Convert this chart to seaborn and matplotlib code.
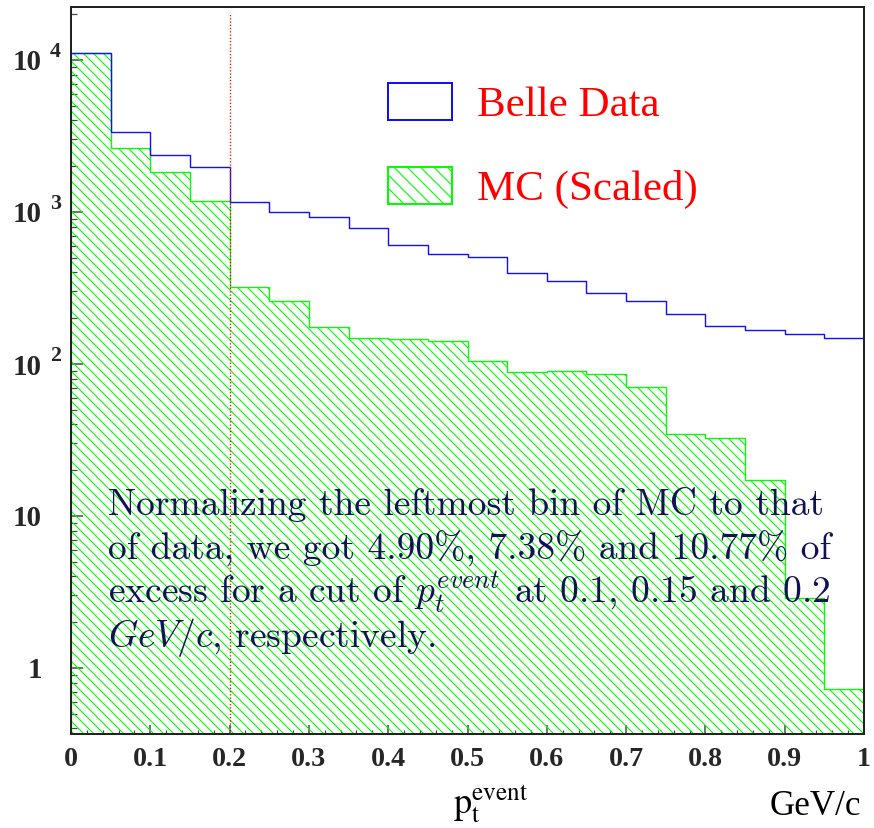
import numpy as np
import pandas as pd
import matplotlib
matplotlib.use("Agg")
import matplotlib.pyplot as plt
import seaborn as sns
from matplotlib.patches import Patch
from matplotlib.ticker import LogLocator, MultipleLocator, NullFormatter

# ---------------- data ----------------
bin_edges = [0.00, 0.05, 0.10, 0.15, 0.20, 0.25, 0.30, 0.35, 0.40, 0.45, 0.50,
             0.55, 0.60, 0.65, 0.70, 0.75, 0.80, 0.85, 0.90, 0.95, 1.00]
belle_data = [11100, 3360, 2370, 1980, 1164, 1000, 923, 781, 609, 529,
              504, 397, 352, 294, 260, 212, 178, 167, 158, 149]
mc_scaled = [11100, 2650, 1824, 1181, 321, 261, 174, 148, 145, 142,
             104, 88, 90, 86, 71, 34.6, 32.4, 17.2, 2.87, 0.724]
x_ticks = [0, 0.1, 0.2, 0.3, 0.4, 0.5, 0.6, 0.7, 0.8, 0.9, 1.0]
x_tick_labels = ["0", "0.1", "0.2", "0.3", "0.4", "0.5", "0.6", "0.7", "0.8", "0.9", "1"]
y_ticks = [1, 10, 100, 1000, 10000]
y_tick_bases = ["1", "10", "10", "10", "10"]
y_tick_exponents = ["", "", "2", "3", "4"]
legend_labels = ["Belle Data", "MC (Scaled)"]
cut_value = 0.2
data_drop_to = 1.0
note_lines = [
    "Normalizing the leftmost bin of MC to that",
    "of data, we got 4.90%, 7.38% and 10.77% of",
    r"excess for a cut of $p_t^{event}$ at 0.1, 0.15 and 0.2",
    r"$GeV/c$, respectively.",
]
x_label = r"$\mathrm{p}_{\mathrm{t}}^{\mathrm{event}}$"
x_unit = "GeV/c"

# ---------------- style ----------------
W, H, DPI = 874, 828, 120
def pt(px):
    return px * 72.0 / DPI

sns.set_style("white")
plt.rcParams["font.family"] = ["Liberation Serif", "DejaVu Serif"]
plt.rcParams["hatch.linewidth"] = pt(1.1)
plt.rcParams["hatch.color"] = "#00ff00"

BLUE = "#1010ff"
GREEN = "#00ff00"
NAVY = "#111155"
SPINE = "#222222"
HATCH = "\\\\\\\\"

fig = plt.figure(figsize=(W / DPI, H / DPI), dpi=DPI)
ax = fig.add_axes([71 / W, 1 - 734 / H, (864 - 71) / W, (734 - 7) / H])

centers = [(a + b) / 2 for a, b in zip(bin_edges[:-1], bin_edges[1:])]
df = pd.DataFrame({"pt": centers, "data": belle_data, "mc": mc_scaled})

# MC hatched histogram
sns.histplot(data=df, x="pt", weights="mc", bins=bin_edges, element="step",
             fill=True, ax=ax, color=GREEN, linewidth=pt(1.3))
poly = ax.collections[-1]
poly.set_alpha(None)
poly.set_facecolor("none")
poly.set_edgecolor(GREEN)
poly.set_hatch(HATCH)

# Data outline histogram
sns.histplot(data=df, x="pt", weights="data", bins=bin_edges, element="step",
             fill=False, ax=ax, color=BLUE, linewidth=pt(1.4))
ax.vlines([bin_edges[0]], data_drop_to * 0.01, belle_data[0], color=BLUE, lw=pt(1.6))
ax.vlines([bin_edges[-1]], data_drop_to, belle_data[-1], color=BLUE, lw=pt(1.6))

ax.set_yscale("log")
ax.set_xlim(bin_edges[0], bin_edges[-1])
ax.set_ylim(10 ** (-66 / 152), 10 ** (661 / 152))

ax.axvline(cut_value, ymin=0, ymax=0.9917, color="red", linestyle=(0, (1, 1.5)), lw=pt(1.3))

# ---------------- axes cosmetics ----------------
for s in ax.spines.values():
    s.set_color(SPINE)
    s.set_linewidth(pt(2.0))
ax.set_xlabel("")
ax.set_ylabel("")

ax.set_xticks(x_ticks)
ax.set_xticklabels(x_tick_labels, fontweight="bold", fontsize=pt(28), family="Liberation Serif")
ax.xaxis.set_minor_locator(MultipleLocator(0.02))
ax.set_yticks(y_ticks)
ax.set_yticklabels(y_tick_bases, fontweight="bold", fontsize=pt(29), family="Liberation Serif", ha="right")
ax.yaxis.set_minor_locator(LogLocator(base=10, subs=[2, 3, 4, 5, 6, 7, 8, 9]))
ax.yaxis.set_minor_formatter(NullFormatter())

ax.tick_params(axis="x", which="major", direction="in", length=pt(9), width=pt(1.5),
               color="#444444", pad=pt(13), bottom=True, top=False)
ax.tick_params(axis="x", which="minor", direction="in", length=pt(4.5), width=pt(1.2),
               color="#444444", bottom=True, top=False)
ax.tick_params(axis="y", which="major", direction="in", length=pt(12), width=pt(1.5),
               color="#444444", pad=pt(29), left=True, right=False)
ax.tick_params(axis="y", which="minor", direction="in", length=pt(6), width=pt(1.2),
               color="#444444", left=True, right=False)

for yv, ex in zip(y_ticks, y_tick_exponents):
    if ex:
        ax.annotate(ex, xy=(50, yv), xycoords=("figure pixels", "data"),
                    xytext=(0, 3), textcoords="offset pixels",
                    ha="left", va="baseline", fontsize=pt(22), fontweight="bold",
                    family="Liberation Serif", annotation_clip=False)

# axis labels
fig.text(453 / W, 1 - 813 / H, x_label, ha="left", va="baseline",
         fontsize=pt(36), math_fontfamily="stix", color="black")
fig.text(861 / W, 1 - 815 / H, x_unit, ha="right", va="baseline",
         fontsize=pt(35), family="Liberation Serif", color="black")

# note
baselines = [515, 560, 603, 647]
for line, b in zip(note_lines, baselines):
    fig.text(108 / W, 1 - b / H, line, ha="left", va="baseline", fontsize=pt(37.5),
             family="cmr10", math_fontfamily="cm", color=NAVY)

# legend
handles = [Patch(facecolor="white", edgecolor=BLUE, linewidth=pt(2)),
           Patch(facecolor="white", edgecolor=GREEN, hatch="\\\\\\", linewidth=pt(2))]
fs = 43
leg = ax.legend(handles, legend_labels, loc="upper left",
                bbox_to_anchor=(388 / W, 1 - 83 / H), bbox_transform=fig.transFigure,
                frameon=False, borderpad=0, borderaxespad=0,
                handlelength=64 / fs, handleheight=40 / fs, handletextpad=25 / fs,
                labelspacing=0.98, prop={"family": "Liberation Serif", "size": pt(fs)},
                labelcolor="red")

fig.savefig("out.png", dpi=DPI)
